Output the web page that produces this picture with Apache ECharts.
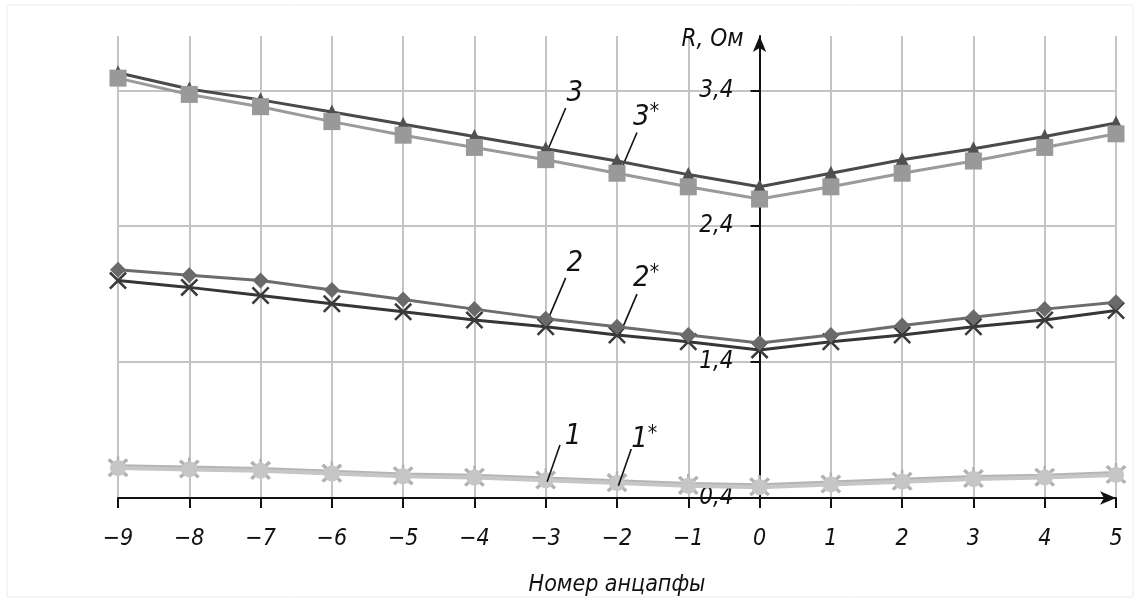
<!DOCTYPE html>
<html>
<head>
<meta charset="utf-8">
<script src="https://cdn.jsdelivr.net/npm/echarts@6/dist/echarts.min.js"></script>
<style>
  html, body { margin: 0; padding: 0; background: #ffffff; }
  #chart { width: 1140px; height: 602px; }
</style>
</head>
<body>
<div id="chart"></div>
<script>
// ---- data ----
const xValues = [-9, -8, -7, -6, -5, -4, -3, -2, -1, 0, 1, 2, 3, 4, 5];
const yTicks = [0.4, 1.4, 2.4, 3.4];
const yMax = 3.8;
const yAxisName = 'R, Ом';
const xAxisName = 'Номер анцапфы';

const series3     = [3.53, 3.41, 3.33, 3.24, 3.15, 3.06, 2.97, 2.88, 2.78, 2.69, 2.79, 2.89, 2.97, 3.06, 3.16];
const series3star = [3.49, 3.37, 3.28, 3.17, 3.07, 2.98, 2.89, 2.79, 2.69, 2.60, 2.69, 2.79, 2.88, 2.98, 3.08];
const series2     = [2.08, 2.04, 2.00, 1.93, 1.86, 1.79, 1.72, 1.66, 1.60, 1.54, 1.60, 1.67, 1.73, 1.79, 1.84];
const series2star = [2.00, 1.95, 1.89, 1.83, 1.77, 1.71, 1.66, 1.60, 1.55, 1.49, 1.55, 1.60, 1.66, 1.71, 1.78];
const series1     = [0.63, 0.62, 0.61, 0.59, 0.57, 0.56, 0.54, 0.52, 0.50, 0.49, 0.51, 0.53, 0.55, 0.56, 0.58];
const series1star = [0.62, 0.61, 0.60, 0.58, 0.56, 0.55, 0.53, 0.51, 0.49, 0.48, 0.50, 0.52, 0.54, 0.55, 0.57];

// annotations: name and the x value where its leader touches the curve
const annNames   = ['3', '3*', '2', '2*', '1', '1*'];
const annAnchorX = [-3, -2, -3, -2, -3, -2];

// ---- build ----
const FONT = "'DejaVu Sans Condensed', 'DejaVu Sans', sans-serif";
const pairs = arr => xValues.map((x, i) => [x, arr[i]]);

const GRID = { left: 118, right: 24, top: 36, bottom: 100 };
const CHART_W = 1140;
const xMin = xValues[0], xMax = xValues[xValues.length - 1];
// shift the y axis so that it sits on x = 0
const yAxisOffset = -(CHART_W - GRID.left - GRID.right) * (0 - xMin) / (xMax - xMin);

const X_PATH = 'path://M0,1 L1,0 L5,4 L9,0 L10,1 L6,5 L10,9 L9,10 L5,6 L1,10 L0,9 L4,5 Z';
const STAR_PATH = 'path://M0,1.2 L1.2,0 L5,3.8 L8.8,0 L10,1.2 L6.2,5 L10,8.8 L8.8,10 L5,6.2 L1.2,10 L0,8.8 L3.8,5 Z M4.4,-1 L5.6,-1 L5.6,5 L4.4,5 Z';

function annotation(name, seriesData) {
  const idx = annNames.indexOf(name);
  const ax = annAnchorX[idx];
  const ay = seriesData[xValues.indexOf(ax)];
  const base = name.replace('*', '');
  const star = name.indexOf('*') >= 0;
  const low = ay < 1;
  return {
    silent: true,
    symbol: ['none', 'none'],
    animation: false,
    lineStyle: { color: '#111', width: 1.6, type: 'solid' },
    label: {
      show: true,
      position: 'end',
      distance: 3,
      offset: low ? [12, 9] : [8, 3],
      formatter: star ? '{n|' + base + '}{s|*}' : '{n|' + base + '}',
      rich: {
        n: { fontFamily: FONT, fontStyle: 'italic', fontSize: 29, color: '#111' },
        s: { fontFamily: FONT, fontStyle: 'italic', fontSize: 21, color: '#111', verticalAlign: 'top', padding: [0, 0, 10, 0] }
      }
    },
    data: [[{ coord: [ax + 0.02, ay - 0.02] }, { coord: [ax + (low ? 0.2 : 0.28), ay + (low ? 0.25 : 0.3)] }]]
  };
}

function lineSeries(name, data, color, width, symbol, symbolSize, symbolColor, z) {
  return {
    name: name,
    type: 'line',
    data: pairs(data),
    symbol: symbol,
    symbolSize: symbolSize,
    showAllSymbol: true,
    lineStyle: { color: color, width: width },
    itemStyle: { color: symbolColor, borderWidth: 0 },
    z: z,
    markLine: annotation(name, data)
  };
}

const option = {
  animation: false,
  backgroundColor: '#ffffff',
  grid: Object.assign({ containLabel: false }, GRID),
  xAxis: {
    type: 'value',
    min: xMin,
    max: xMax,
    interval: 1,
    name: xAxisName,
    nameLocation: 'middle',
    nameGap: 76,
    nameTextStyle: { fontFamily: FONT, fontStyle: 'italic', fontSize: 23, color: '#111' },
    axisLine: {
      onZero: false,
      symbol: ['none', 'arrow'],
      symbolSize: [10, 16],
      lineStyle: { color: '#111', width: 2 }
    },
    axisTick: { show: true, inside: false, length: 10, lineStyle: { color: '#111', width: 2 } },
    axisLabel: {
      margin: 30,
      fontFamily: FONT, fontStyle: 'italic', fontSize: 23, color: '#111',
      formatter: v => String(v).replace('-', '\u2212')
    },
    splitLine: { show: true, lineStyle: { color: '#c4c4c4', width: 2 } }
  },
  yAxis: {
    type: 'value',
    position: 'left',
    offset: yAxisOffset,
    min: yTicks[0],
    max: yMax,
    interval: yTicks[1] - yTicks[0],
    name: yAxisName,
    nameLocation: 'end',
    nameGap: -4,
    nameTextStyle: {
      fontFamily: FONT, fontStyle: 'italic', fontSize: 24, color: '#111',
      align: 'right', verticalAlign: 'middle', padding: [0, 16, 0, 0]
    },
    axisLine: {
      show: true,
      onZero: false,
      symbol: ['none', 'arrow'],
      symbolSize: [10, 16],
      lineStyle: { color: '#111', width: 2 }
    },
    axisTick: { show: true, inside: false, length: 9, lineStyle: { color: '#111', width: 2 } },
    axisLabel: {
      margin: 26,
      showMaxLabel: false,
      fontFamily: FONT, fontStyle: 'italic', fontSize: 24, color: '#111',
      formatter: v => (yTicks.some(t => Math.abs(t - v) < 1e-6) ? v.toFixed(1).replace('.', ',') : '')
    },
    splitLine: { show: true, showMaxLine: false, lineStyle: { color: '#c4c4c4', width: 2 } }
  },
  graphic: [{
    type: 'rect',
    shape: { x: 7, y: 5, width: 1126, height: 592 },
    style: { fill: 'none', stroke: '#ededed', lineWidth: 1 },
    silent: true, z: -10
  }],
  series: [
    lineSeries('1',  series1,     '#b4b4b4', 5, STAR_PATH, 21, '#b2b2b2', 3),
    lineSeries('1*', series1star, '#c6c6c6', 4, 'circle', 16, '#c6c6c6', 4),
    lineSeries('2*', series2star, '#363636', 3, X_PATH, 18, '#3a3a3a', 5),
    lineSeries('2',  series2,     '#6c6c6c', 3, 'diamond', 16, '#6a6a6a', 6),
    lineSeries('3',  series3,     '#4a4a4a', 3, 'triangle', 15, '#505050', 7),
    lineSeries('3*', series3star, '#9a9a9a', 3, 'rect', 17, '#999999', 8)
  ]
};

const chart = echarts.init(document.getElementById('chart'), null, { renderer: 'canvas' });
chart.setOption(option);
</script>
</body>
</html>
